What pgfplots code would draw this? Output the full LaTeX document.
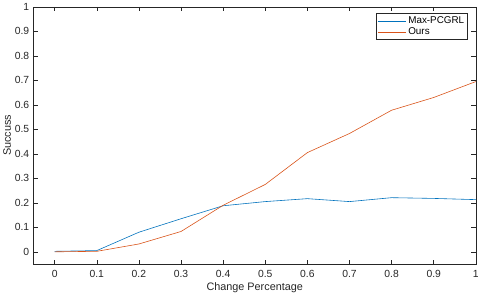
\documentclass[border=0pt]{standalone}
\usepackage{pgfplots}
\pgfplotsset{compat=1.18}
\usepackage{fontspec}
\setmainfont{Liberation Sans}
\definecolor{mblue}{rgb}{0,0.447,0.741}
\definecolor{morange}{rgb}{0.85,0.325,0.098}
\definecolor{axgray}{gray}{0.15}
\begin{document}
\begin{tikzpicture}
\begin{axis}[
  scale only axis,
  width=447bp, height=260bp,
  xmin=-0.05, xmax=1, ymin=-0.05, ymax=1,
  xtick={0,0.1,...,1.0},
  ytick={0,0.1,...,1.0},
  xticklabels={0,0.1,0.2,0.3,0.4,0.5,0.6,0.7,0.8,0.9,1},
  yticklabels={0,0.1,0.2,0.3,0.4,0.5,0.6,0.7,0.8,0.9,1},
  tick align=inside,
  major tick length=4.5bp,
  axis line style={axgray, line width=0.5pt},
  every tick/.style={axgray, line width=0.5pt},
  tick label style={font=\fontsize{10.5}{12}\selectfont, text=axgray},
  xticklabel style={yshift=-2.5bp},
  yticklabel style={xshift=-1bp},
  label style={font=\fontsize{11}{13}\selectfont, text=axgray},
  xlabel={Change Percentage},
  ylabel={Succuss},
  xlabel style={yshift=1bp},
  ylabel style={yshift=-3bp},
  legend style={at={(0.982,0.975)}, anchor=north east, draw=axgray, line width=0.5pt,
    font=\fontsize{10}{11}\selectfont, inner sep=1.5pt, row sep=-1.5pt},
  legend cell align=left,
  legend image code/.code={\draw[#1] (0cm,0cm) -- (1.0cm,0cm);},
]
\addplot[mblue, line width=0.6pt] coordinates {
(0,0.002) (0.1,0.005) (0.2,0.08) (0.3,0.135) (0.4,0.188) (0.5,0.205) (0.6,0.217) (0.7,0.205) (0.8,0.221) (0.9,0.218) (1.0,0.213)};
\addlegendentry{Max-PCGRL}
\addplot[morange, line width=0.6pt] coordinates {
(0,0) (0.1,0.002) (0.2,0.032) (0.3,0.083) (0.4,0.19) (0.5,0.275) (0.6,0.405) (0.7,0.483) (0.8,0.578) (0.9,0.63) (1.0,0.695)};
\addlegendentry{Ours}
\end{axis}
\end{tikzpicture}
\end{document}
